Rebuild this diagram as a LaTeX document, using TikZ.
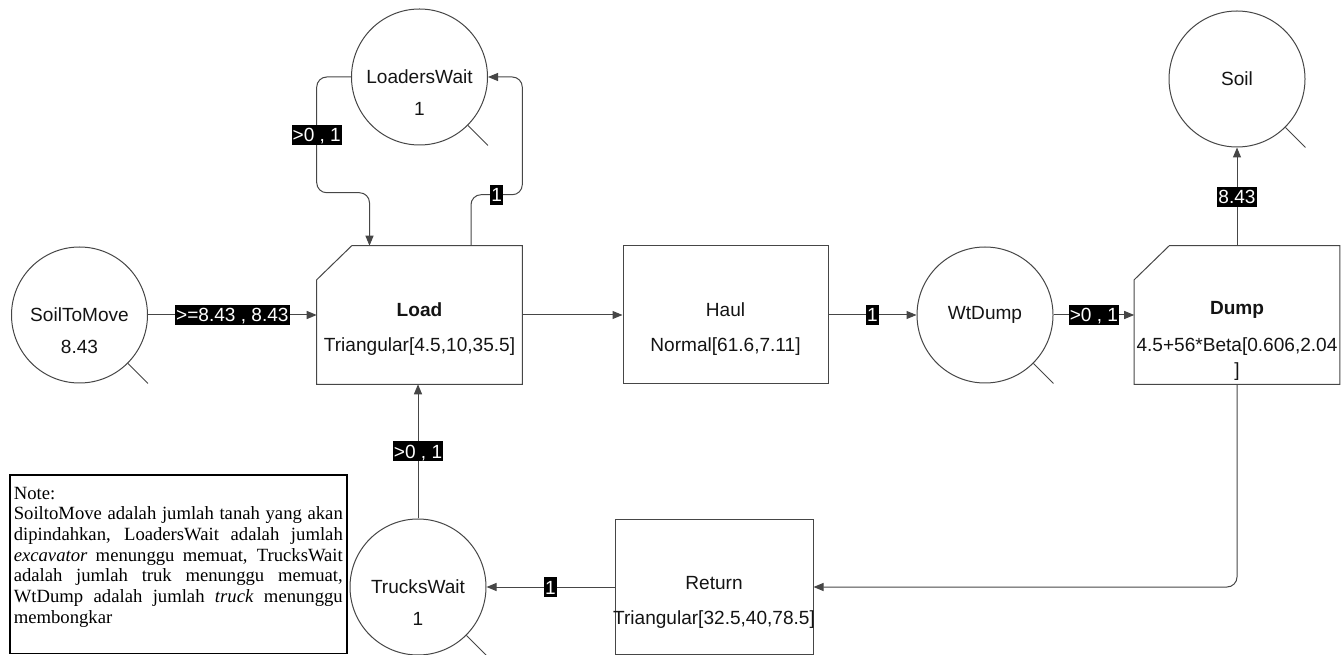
\documentclass[tikz,border=0pt]{standalone}
\usepackage{fontspec}
\setmainfont{Liberation Sans}
\newfontfamily\notefont{Liberation Serif}
\usepackage{tikz}
\usetikzlibrary{calc}
\usetikzlibrary{arrows.meta, positioning}

\definecolor{edgegray}{RGB}{70,70,70}
\definecolor{inkgray}{RGB}{20,20,20}

\begin{document}
\begin{tikzpicture}[x=0.75pt,y=0.75pt,yscale=-1,xscale=1,
  every node/.style={font=\fontsize{14.3}{16}\selectfont, text=inkgray},
  queue/.style={circle, draw=edgegray, line width=0.75pt, minimum size=102pt, inner sep=0pt},
  activity/.style={rectangle, minimum width=153.75pt, minimum height=103.5pt, inner sep=0pt},
  boxline/.style={draw=edgegray, line width=0.75pt},
  flow/.style={draw=edgegray, line width=0.75pt, rounded corners=7.5pt, -{Triangle[length=7.5pt,width=6pt]}},
  flowlabel/.style={sharp corners, fill=black, text=white, inner xsep=0.75pt, inner ysep=0.75pt, text height=12pt, text depth=1.5pt},
  tail/.style={draw=edgegray, line width=0.75pt},
  notebox/.style={draw=black, line width=1.2pt, text=black, text width=246.75pt, align=justify, inner xsep=3pt, inner ysep=9pt, font=\notefont\fontsize{14}{15.5}\selectfont}
]
\useasboundingbox (0,0) rectangle (1342,655);
\clip (0,0) rectangle (1342,655);

%Shape: Activities
\node [activity] (load) at (419.5,315) {};
\node [activity, boxline] (haul) at (725.5,315) {};
\node [activity] (dump) at (1237,315) {};
\node [activity, boxline, minimum width=148.5pt, minimum height=100.5pt] (return) at (714,587) {};
% load and dump have the cut corner
\foreach \b in {load,dump}
  \draw [boxline] ($(\b.north west)+(35,0)$) -- (\b.north east) -- (\b.south east) -- (\b.south west) -- ($(\b.north west)+(0,34)$) -- cycle ;

%Shape: Queues
\node [queue] (soiltomove) at (79.5,315) {SoilToMove};
\node [queue] (loaderswait) at (419.5,77) {LoadersWait};
\node [queue] (wtdump) at (985,315) {WtDump};
\node [queue] (soil) at (1237,79) {Soil};
\node [queue] (truckswait) at (418,587) {TrucksWait};
\foreach \q in {soiltomove,loaderswait,wtdump,soil,truckswait}
  \draw [tail] (\q.-45) -- ++(20,20) ;

% Text Node
\node (soiltomoveval) at ($(soiltomove)+(0,32)$) {8.43};
\node (loaderswaitval) at ($(loaderswait)+(0,32)$) {1};
\node (truckswaitval) at ($(truckswait)+(0,32)$) {1};
\node (loadtitle) at ($(load)+(0,-5)$) {\bfseries Load};
\node (loaddist) at ($(load)+(0,32)$) {Triangular[4.5,10,35.5]};
\node (haultitle) at ($(haul)+(0,-5)$) {Haul};
\node (hauldist) at ($(haul)+(0,32)$) {Normal[61.6,7.11]};
\node (dumptitle) at ($(dump)+(0,-5)$) {\bfseries Dump};
\node [align=center, font=\fontsize{14.3}{18.75}\selectfont] (dumpdist) at ($(dump)+(0,44.5)$) {4.5+56*Beta[0.606,2.04\\]};
\node (returntitle) at ($(return)+(0,-4)$) {Return};
\node (returndist) at ($(return)+(0,33)$) {Triangular[32.5,40,78.5]};

%Straight Lines
\draw [flow] (soiltomove) -- node [flowlabel] {>=8.43 , 8.43} (load) ;
\draw [flow] (load) -- (haul) ;
\draw [flow] (haul) -- node [flowlabel] {1} (wtdump) ;
\draw [flow] (wtdump) -- node [flowlabel] {>0 , 1} (dump) ;
\draw [flow] (dump) -- node [flowlabel] {8.43} (soil) ;
\draw [flow] (dump.south) |- (return.east) ;
\draw [flow] (return) -- node [flowlabel] {1} (truckswait) ;
\draw [flow] (truckswait) -- node [flowlabel] {>0 , 1} (truckswait |- load.south) ;
% loaders go round the load activity
\draw [flow] (loaderswait.west) -| node [flowlabel, pos=0.75] {>0 , 1} ($(load.north west)+(0,-53)$) -| ($(load.north)+(-50,0)$) ;
\draw [flow] ($(load.north)+(51.5,0)$) |- node [flowlabel, pos=0.75] {1} ($(load.north east)+(0,-51)$) |- (loaderswait.east) ;

% Text Node
\node [notebox, anchor=north west] (note) at (9,474) {Note:\\
SoiltoMove adalah jumlah tanah yang akan\linebreak
dipindahkan, LoadersWait adalah jumlah\linebreak
\textit{excavator} menunggu memuat, TrucksWait\linebreak
adalah jumlah truk menunggu memuat,\linebreak
WtDump adalah jumlah \textit{truck} menunggu\linebreak
membongkar\par\vspace*{10.9pt}};

\end{tikzpicture}
\end{document}
